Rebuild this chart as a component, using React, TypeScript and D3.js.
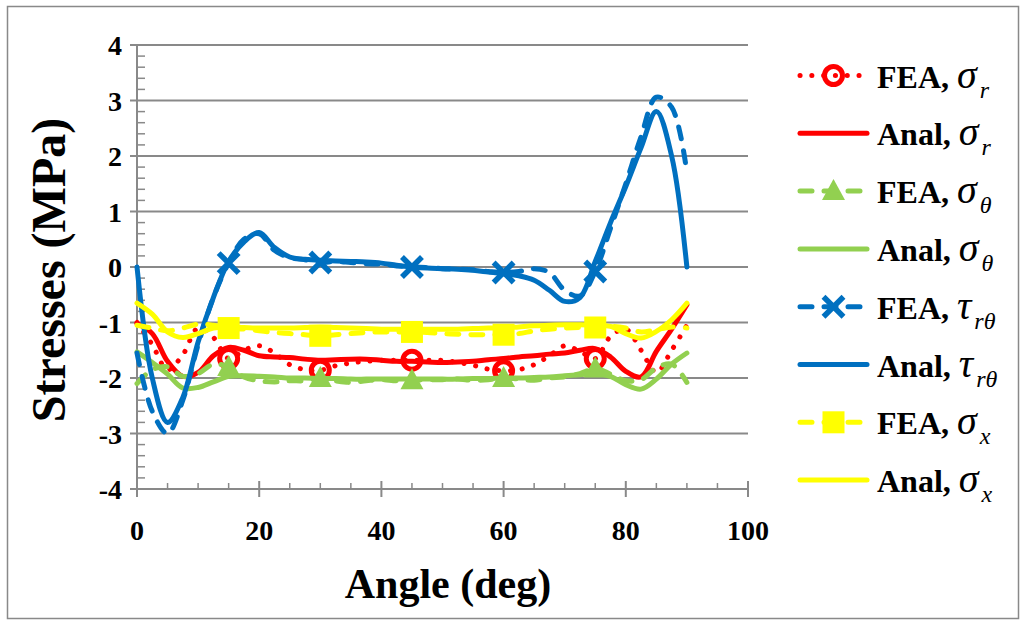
import React from 'react';
import * as d3 from 'd3';

// angle (deg) sample points, shared by all series
const angles = [0, 2.5, 5, 7.5, 10, 12.5, 15, 17.5, 20, 22.5, 25, 27.5, 30, 32.5, 35, 37.5, 40, 42.5, 45,
  47.5, 50, 52.5, 55, 57.5, 60, 62.5, 65, 67.5, 70, 72.5, 75, 77.5, 80, 82.5, 85, 87.5, 90];
const markerAngles = [15, 30, 45, 60, 75];

const feaSigmaR = [-1.0, -1.4, -1.85, -1.58, -1.1, -1.27, -1.65, -1.5, -1.42, -1.55, -1.76, -1.85, -1.86,
  -1.78, -1.73, -1.7, -1.68, -1.68, -1.68, -1.68, -1.68, -1.72, -1.77, -1.84, -1.87, -1.85, -1.76, -1.6,
  -1.42, -1.52, -1.65, -1.25, -1.12, -1.5, -1.9, -1.5, -1.05];
const analSigmaR = [-1.02, -1.2, -1.7, -1.97, -1.9, -1.6, -1.45, -1.5, -1.6, -1.62, -1.63, -1.66, -1.68,
  -1.67, -1.66, -1.66, -1.68, -1.7, -1.7, -1.71, -1.72, -1.71, -1.7, -1.67, -1.65, -1.62, -1.6, -1.57,
  -1.55, -1.5, -1.47, -1.62, -1.88, -1.98, -1.52, -1.12, -0.68];
const feaSigmaT = [-2.1, -1.85, -1.8, -1.97, -1.92, -1.75, -1.8, -1.98, -2.05, -2.07, -2.05, -2.05, -2.0,
  -2.05, -2.08, -2.05, -2.03, -2.05, -2.04, -2.03, -2.03, -2.02, -2.04, -2.03, -2.0, -2.02, -2.04, -2.0,
  -1.98, -1.92, -1.83, -1.93, -2.05, -2.03, -1.82, -1.75, -2.08];
const analSigmaT = [-1.53, -1.72, -1.93, -2.18, -2.17, -2.07, -1.97, -1.96, -1.97, -1.98, -2.0, -2.0, -2.01,
  -2.01, -2.02, -2.02, -2.02, -2.02, -2.02, -2.02, -2.02, -2.02, -2.01, -2.01, -2.0, -2.0, -1.99, -1.98,
  -1.96, -1.94, -1.92, -1.97, -2.12, -2.2, -2.02, -1.75, -1.55];
const feaTau = [-1.55, -2.6, -3.0, -2.4, -1.4, -0.55, 0.07, 0.5, 0.6, 0.3, 0.17, 0.13, 0.08, 0.1, 0.08,
  0.06, 0.05, 0.02, 0.0, -0.01, -0.03, -0.04, -0.05, -0.08, -0.1, -0.08, -0.03, -0.1, -0.42, -0.52, -0.08,
  0.7, 1.5, 2.35, 3.06, 2.88, 1.7];
const analTau = [0, -2.0, -2.8, -2.35, -1.35, -0.55, 0.1, 0.45, 0.62, 0.35, 0.18, 0.14, 0.12, 0.11, 0.1,
  0.09, 0.07, 0.03, 0.0, -0.02, -0.03, -0.04, -0.06, -0.09, -0.12, -0.16, -0.24, -0.42, -0.62, -0.55, 0.1,
  0.8, 1.45, 2.15, 2.8, 2.0, 0];
const feaSigmaX = [-1.05, -1.1, -1.15, -1.1, -1.03, -1.05, -1.1, -1.12, -1.15, -1.18, -1.2, -1.22, -1.24,
  -1.22, -1.2, -1.18, -1.17, -1.17, -1.17, -1.18, -1.2, -1.21, -1.22, -1.22, -1.22, -1.2, -1.15, -1.12,
  -1.1, -1.09, -1.09, -1.07, -1.1, -1.17, -1.13, -1.08, -1.1];
const analSigmaX = [-0.65, -0.85, -1.17, -1.27, -1.2, -1.1, -1.08, -1.09, -1.1, -1.1, -1.1, -1.09, -1.08,
  -1.09, -1.1, -1.11, -1.12, -1.12, -1.12, -1.12, -1.12, -1.12, -1.11, -1.1, -1.1, -1.08, -1.06, -1.05,
  -1.04, -1.04, -1.05, -1.07, -1.2, -1.28, -1.16, -0.95, -0.65];

const xTicks = [0, 20, 40, 60, 80, 100];
const yTicks = [-4, -3, -2, -1, 0, 1, 2, 3, 4];

const RED = '#FF0000';
const GREEN = '#92D050';
const BLUE = '#0070C0';
const YELLOW = '#FFFF00';
const GRID = '#898989';
const SERIF = '"Liberation Serif", "Times New Roman", serif';

type Marker = 'circle' | 'triangle' | 'x' | 'square' | null;
interface Series {
  prefix: string;
  sym: string;
  sub: string;
  values: number[];
  color: string;
  dash: string | null;
  marker: Marker;
}

const series: Series[] = [
  { prefix: 'FEA, ', sym: 'σ', sub: 'r', values: feaSigmaR, color: RED, dash: '0.1 11.7', marker: 'circle' },
  { prefix: 'Anal, ', sym: 'σ', sub: 'r', values: analSigmaR, color: RED, dash: null, marker: null },
  { prefix: 'FEA, ', sym: 'σ', sub: 'θ', values: feaSigmaT, color: GREEN, dash: '12 12', marker: 'triangle' },
  { prefix: 'Anal, ', sym: 'σ', sub: 'θ', values: analSigmaT, color: GREEN, dash: null, marker: null },
  { prefix: 'FEA, ', sym: 'τ', sub: 'rθ', values: feaTau, color: BLUE, dash: '12 12', marker: 'x' },
  { prefix: 'Anal, ', sym: 'τ', sub: 'rθ', values: analTau, color: BLUE, dash: null, marker: null },
  { prefix: 'FEA, ', sym: 'σ', sub: 'x', values: feaSigmaX, color: YELLOW, dash: '12 12', marker: 'square' },
  { prefix: 'Anal, ', sym: 'σ', sub: 'x', values: analSigmaX, color: YELLOW, dash: null, marker: null },
];

function MarkerShape({ kind, cx, cy, color }: { kind: Marker; cx: number; cy: number; color: string }) {
  if (kind === 'circle') return <circle cx={cx} cy={cy} r={9} fill="none" stroke={color} strokeWidth={5} />;
  if (kind === 'square') return <rect x={cx - 11} y={cy - 11} width={22} height={22} fill={color} />;
  if (kind === 'triangle')
    return <path d={`M${cx},${cy - 12}L${cx + 11.5},${cy + 9}L${cx - 11.5},${cy + 9}Z`} fill={color} />;
  if (kind === 'x')
    return (
      <path d={`M${cx - 10},${cy - 10}L${cx + 10},${cy + 10}M${cx + 10},${cy - 10}L${cx - 10},${cy + 10}`}
        stroke={color} strokeWidth={5.5} />
    );
  return null;
}

const App: React.FC = () => {
  const width = 1026;
  const height = 625;
  const plot = { left: 137, right: 748, top: 45, bottom: 489 };

  const x = d3.scaleLinear().domain([0, 100]).range([plot.left, plot.right]);
  const y = d3.scaleLinear().domain([-4, 4]).range([plot.bottom, plot.top]);

  const line = d3.line<number>()
    .x((_, i) => x(angles[i]))
    .y(d => y(d))
    .curve(d3.curveCatmullRom.alpha(0.5));

  const yMinor = y.ticks(40).filter(v => !Number.isInteger(v));
  const xMinor = x.ticks(20).filter(v => v % 20 !== 0);

  const legendX1 = 800;
  const legendX2 = 867;
  const legendTop = 75.5;
  const legendStep = 57.8;

  return (
    <svg width={width} height={height} style={{ position: 'absolute', left: 0, top: 0, background: '#fff' }}
      fontFamily={SERIF}>
      <rect x={7.5} y={6.5} width={1011} height={612} fill="#fff" stroke={GRID} strokeWidth={1.5} />

      {/* grid */}
      {yTicks.map(t => (
        <line key={`g${t}`} x1={plot.left - 7} x2={plot.right} y1={y(t)} y2={y(t)} stroke={GRID} strokeWidth={2} />
      ))}
      {yMinor.map(t => (
        <line key={`ym${t}`} x1={plot.left} x2={plot.left + 8} y1={y(t)} y2={y(t)} stroke={GRID} strokeWidth={1.5} />
      ))}
      <line x1={plot.left} x2={plot.left} y1={plot.top} y2={plot.bottom} stroke={GRID} strokeWidth={2} />
      {xTicks.map(t => (
        <line key={`xt${t}`} x1={x(t)} x2={x(t)} y1={plot.bottom - 8} y2={plot.bottom + 8} stroke={GRID} strokeWidth={2} />
      ))}
      {xMinor.map(t => (
        <line key={`xm${t}`} x1={x(t)} x2={x(t)} y1={plot.bottom - 6} y2={plot.bottom} stroke={GRID} strokeWidth={1.5} />
      ))}

      {/* tick labels */}
      {yTicks.map(t => (
        <text key={`yl${t}`} x={122} y={y(t) + 10} textAnchor="end" fontSize={28} fontWeight="bold">{t}</text>
      ))}
      {xTicks.map(t => (
        <text key={`xl${t}`} x={x(t)} y={540} textAnchor="middle" fontSize={28} fontWeight="bold">{t}</text>
      ))}

      {/* axis titles */}
      <text transform={`translate(65,270) rotate(-90)`} textAnchor="middle" fontSize={48} fontWeight="bold">
        Stresses (MPa)
      </text>
      <text x={448} y={598} textAnchor="middle" fontSize={42} fontWeight="bold">Angle (deg)</text>

      {/* series */}
      {series.map((s, i) => (
        <g key={`s${i}`}>
          <path d={line(s.values) || ''} fill="none" stroke={s.color} strokeWidth={5}
            strokeDasharray={s.dash || undefined} strokeLinecap="round" strokeLinejoin="round" />
          {s.marker && markerAngles.map(a => (
            <MarkerShape key={a} kind={s.marker} cx={x(a)} cy={y(s.values[angles.indexOf(a)])} color={s.color} />
          ))}
        </g>
      ))}

      {/* legend */}
      {series.map((s, i) => {
        const ly = legendTop + i * legendStep;
        const mid = (legendX1 + legendX2) / 2;
        return (
          <g key={`l${i}`}>
            <line x1={legendX1} x2={legendX2} y1={ly} y2={ly} stroke={s.color} strokeWidth={5}
              strokeDasharray={s.dash || undefined} strokeLinecap="round" />
            {s.marker && <MarkerShape kind={s.marker} cx={mid} cy={ly} color={s.color} />}
            <text x={877} y={ly + 12} fontSize={32}>
              <tspan fontWeight="bold">{s.prefix}</tspan>
              <tspan fontStyle="italic" fontSize={40}>{s.sym}</tspan>
              <tspan fontStyle="italic" fontSize={24} dx={3} dy={10}>{s.sub}</tspan>
            </text>
          </g>
        );
      })}
    </svg>
  );
};

export default App;
